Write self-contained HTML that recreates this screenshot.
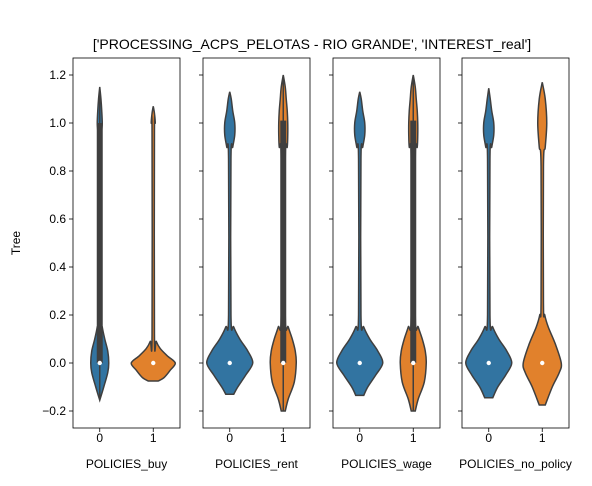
<!DOCTYPE html>
<html><head><meta charset="utf-8"><style>
body{margin:0;background:#fff;}
svg text{font-family:"Liberation Sans",sans-serif;fill:#000;}
</style></head><body>
<svg id="chart" width="592" height="481" xmlns="http://www.w3.org/2000/svg">
<text x="312" y="49" font-size="14" text-anchor="middle">['PROCESSING_ACPS_PELOTAS - RIO GRANDE', 'INTEREST_real']</text>
<text x="20" y="243" font-size="12" text-anchor="middle" transform="rotate(-90 20 243)">Tree</text>
<g id="plots"></g>
</svg>
<script>
const panelNames = ["POLICIES_buy","POLICIES_rent","POLICIES_wage","POLICIES_no_policy"];
const categories = ["0","1"];
const yTicks = [-0.2,0,0.2,0.4,0.6,0.8,1.0,1.2];
const yTickLabels = ["\u22120.2","0.0","0.2","0.4","0.6","0.8","1.0","1.2"];
const buy0Y = [-0.155,-0.1,-0.04,0,0.05,0.1,0.15,0.2,0.9,0.97,1.0,1.05,1.1,1.15];
const buy0D = [0,4,8,9,8,5,2.5,1.2,1.2,2,2.5,2,1.2,0];
const buy1Y = [-0.075,-0.06,-0.03,0,0.03,0.06,0.09,0.12,0.96,1.0,1.04,1.07];
const buy1D = [5,11,17,22,14,7,3,1.2,1.2,2,1.2,0];
const rent0Y = [-0.13,-0.1,-0.05,0,0.05,0.1,0.15,0.2,0.85,0.9,0.95,1.0,1.05,1.1,1.13];
const rent0D = [4,8,16,23,18,10,4,1.2,1.2,3,5,5,3,1.5,0];
const rent1Y = [-0.2,-0.15,-0.08,0,0.05,0.1,0.15,0.2,0.85,0.9,0.95,1.0,1.05,1.1,1.15,1.2];
const rent1D = [2,5,11,13,12,9,5,2,2,4,4.5,4.5,4,3,2,0];
const wage0Y = [-0.135,-0.1,-0.05,0,0.05,0.1,0.15,0.2,0.85,0.9,0.95,1.0,1.05,1.1,1.13];
const wage0D = [4,8,16,23,18,10,4,1.2,1.2,3,5,5,3,1.5,0];
const wage1Y = [-0.2,-0.15,-0.08,0,0.05,0.1,0.15,0.2,0.85,0.9,0.95,1.0,1.05,1.1,1.15,1.2];
const wage1D = [2,5,11,13,12,9,5,2,2,4,4.5,4.5,4,3,2,0];
const none0Y = [-0.145,-0.1,-0.05,0,0.05,0.1,0.15,0.2,0.85,0.9,0.95,1.0,1.05,1.1,1.145];
const none0D = [4,9,17,23,18,10,4,1.2,1.2,3,5,5,3,1.5,0];
const none1Y = [-0.175,-0.1,-0.04,0,0.08,0.15,0.2,0.25,0.82,0.9,1.0,1.1,1.17];
const none1D = [3,10,17,19,13,6,2.5,1.2,1.2,3,4.5,3,0];
const boxes = [[[0,1.0],null],[null,[0,1.01]],[null,[0,1.01]],[null,null]];
const medians = [[0,0],[0,0],[0,0],[0,0]];
const violins = [[[buy0Y,buy0D],[buy1Y,buy1D]],[[rent0Y,rent0D],[rent1Y,rent1D]],[[wage0Y,wage0D],[wage1Y,wage1D]],[[none0Y,none0D],[none1Y,none1D]]];
const colors = ["#3274a1","#e1812c"];
const panelLeft = [73,203,333,462], panelW = 107, plotTop = 58, plotBottom = 428;
function yScale(v){return 363 - v*240;}
function xScale(p,c){return panelLeft[p] + panelW*(0.25+0.5*c);}
const NS="http://www.w3.org/2000/svg";
const g=document.getElementById('plots');
function mk(tag,attrs,parent){const e=document.createElementNS(NS,tag);for(const k in attrs)e.setAttribute(k,attrs[k]);(parent||g).appendChild(e);return e;}
function smooth(pts){let d="M"+pts[0][0]+","+pts[0][1];for(let i=0;i<pts.length-1;i++){const p0=pts[Math.max(0,i-1)],p1=pts[i],p2=pts[i+1],p3=pts[Math.min(pts.length-1,i+2)];const c1=[p1[0]+(p2[0]-p0[0])/6,p1[1]+(p2[1]-p0[1])/6],c2=[p2[0]-(p3[0]-p1[0])/6,p2[1]-(p3[1]-p1[1])/6];d+=" C"+c1[0].toFixed(2)+","+c1[1].toFixed(2)+" "+c2[0].toFixed(2)+","+c2[1].toFixed(2)+" "+p2[0].toFixed(2)+","+p2[1].toFixed(2);}return d;}
for(let p=0;p<4;p++){
  const pg=mk('g',{});
  
  
  for(let c=0;c<2;c++){
    const [ys,ds]=violins[p][c];const cx=xScale(p,c);
    const right=ys.map((y,i)=>[cx+ds[i],yScale(y)]);
    const left=ys.map((y,i)=>[cx-ds[i],yScale(y)]).reverse();
    let d=smooth(right);const l=smooth(left);d+=" L"+l.slice(1)+" Z";
    const v=mk('path',{d:d,fill:colors[c],stroke:'#3f3f3f','stroke-width':1.5},pg);
    
    
    const b=boxes[p][c];
    if(b){
      const wl=mk('line',{x1:cx,x2:cx,y1:yScale(ys[0]),y2:yScale(ys[ys.length-1]),stroke:'#3f3f3f','stroke-width':1.5},pg);
      
      
      const r=mk('rect',{x:cx-3,y:yScale(b[1]),width:6,height:yScale(b[0])-yScale(b[1]),fill:'#3f3f3f'},pg);
      
      
    }
    const m=mk('circle',{cx:cx,cy:yScale(medians[p][c]),r:2.2,fill:'#fff'},pg);
    
    
    const t=mk('line',{x1:cx,x2:cx,y1:plotBottom,y2:plotBottom+4,stroke:'#000','stroke-width':0.8},pg);
    
    
    const tl=mk('text',{x:cx,y:plotBottom+14,'font-size':12,'text-anchor':'middle'},pg);tl.textContent=categories[c];
    
    
  }
  const fr=mk('rect',{x:panelLeft[p],y:plotTop,width:panelW,height:plotBottom-plotTop,fill:'none',stroke:'#000','stroke-width':0.8},pg);
  
  
  yTicks.forEach((v,i)=>{
    const t=mk('line',{x1:panelLeft[p]-4,x2:panelLeft[p],y1:yScale(v),y2:yScale(v),stroke:'#000','stroke-width':0.8},pg);
    
    
    if(p===0){const tl=mk('text',{x:panelLeft[p]-7,y:yScale(v)+4,'font-size':12,'text-anchor':'end'},pg);tl.textContent=yTickLabels[i];
      
      }
  });
  const xl=mk('text',{x:panelLeft[p]+panelW/2,y:468,'font-size':12,'text-anchor':'middle'},pg);xl.textContent=panelNames[p];
  
  
}
</script>
</body></html>
